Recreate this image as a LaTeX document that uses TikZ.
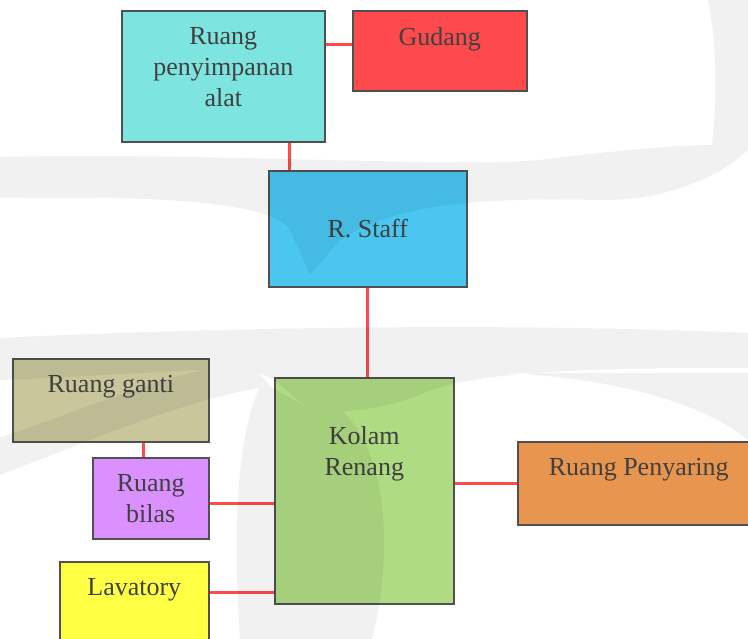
\documentclass[tikz,border=0pt]{standalone}
\usepackage{fontspec}
\setmainfont{Liberation Serif}
\usetikzlibrary{positioning}

\definecolor{boxline}{HTML}{505050}
\definecolor{labelgrey}{HTML}{404040}
\definecolor{linkred}{HTML}{FF4A4A}
\definecolor{cAlat}{HTML}{7EE4DF}
\definecolor{cGudang}{HTML}{FF4A4D}
\definecolor{cStaff}{HTML}{4AC6F1}
\definecolor{cKolam}{HTML}{AFDC83}
\definecolor{cGanti}{HTML}{C9C69C}
\definecolor{cBilas}{HTML}{DB90FF}
\definecolor{cLav}{HTML}{FFFF44}
\definecolor{cSaring}{HTML}{E8954F}

\begin{document}
\begin{tikzpicture}[x=1pt,y=-1pt,
  room/.style={draw=boxline, line width=1.6pt, inner sep=0pt, anchor=north west},
  caption/.style={text=labelgrey, font=\fontsize{26}{31}\selectfont, align=center, inner sep=0pt},
  link/.style={draw=linkred, line width=3pt},
  watermark/.style={fill=black, fill opacity=0.055}]

\useasboundingbox (0,0) rectangle (748,639);
\clip (0,0) rectangle (748,639);
\fill[white] (0,0) rectangle (748,639);

% rooms
\node[room, fill=cAlat,   minimum width=203pt, minimum height=131pt] (alat)   at (121,10)  {};
\node[room, fill=cGudang, minimum width=174pt, minimum height=80pt]  (gudang) at (352,10)  {};
\node[room, fill=cStaff,  minimum width=198pt, minimum height=116pt] (staff)  at (268,170) {};
\node[room, fill=cKolam,  minimum width=179pt, minimum height=226pt] (kolam)  at (274,377) {};
\node[room, fill=cGanti,  minimum width=196pt, minimum height=83pt]  (ganti)  at (12,358)  {};
\node[room, fill=cBilas,  minimum width=116pt, minimum height=81pt]  (bilas)  at (92,457)  {};
\node[room, fill=cLav,    minimum width=149pt, minimum height=100pt] (lav)    at (59,561)  {};
\node[room, fill=cSaring, minimum width=242pt, minimum height=83pt]  (saring) at (517,441) {};

% room names
\node[caption, anchor=north, below=17.5pt of alat.north]   (alat-t)   {Ruang\\penyimpanan\\alat};
\node[caption, anchor=north, below=17.5pt of gudang.north] (gudang-t) {Gudang};
\node[caption] (staff-t) at (staff.center) {R. Staff};
\node[caption, anchor=north, below=49.5pt of kolam.north]  (kolam-t)  {Kolam\\Renang};
\node[caption, anchor=north, below=17.5pt of ganti.north]  (ganti-t)  {Ruang ganti};
\node[caption, anchor=north, below=17.5pt of bilas.north]  (bilas-t)  {Ruang\\bilas};
\node[caption, anchor=north, below=17.5pt of lav.north]    (lav-t)    {Lavatory};
\node[caption, anchor=north, below=17.5pt of saring.north] (saring-t) {Ruang Penyaring};

% connections
\draw[link] ([yshift=6pt]gudang.west) -- ([yshift=6pt]gudang.west -| alat.east);
\draw[link] ([xshift=21pt]staff.north west) -- ([xshift=21pt]staff.north west |- alat.south);
\draw[link] (staff.south) -- (staff.south |- kolam.north);
\draw[link] ([xshift=-7pt]bilas.north) -- ([xshift=-7pt]bilas.north |- ganti.south);
\draw[link] ([yshift=-5pt]bilas.east) -- ([yshift=-5pt]bilas.east -| kolam.west);
\draw[link] ([yshift=12pt]kolam.south west) -- ([yshift=12pt]kolam.south west -| lav.east);
\draw[link] (saring.west) -- (saring.west -| kolam.east);

% faint emblem in the background (one path, so overlaps are filled once)
\fill[watermark]
  % upper sweep with its point
  (0,157) .. controls (200,152) and (450,168) .. (540,160)
  .. controls (620,150) and (680,145) .. (712,145)
  .. controls (718,90) and (716,40) .. (708,0) -- (748,0) -- (748,150)
  .. controls (735,162) and (722,170) .. (712,175)
  .. controls (680,190) and (650,200) .. (600,200)
  .. controls (500,198) and (400,200) .. (340,240)
  -- (310,275) -- (290,230) .. controls (270,200) and (150,196) .. (0,198) -- cycle
  % middle sweep
  (0,338) .. controls (200,328) and (500,322) .. (748,333)
  -- (748,368) .. controls (600,368) and (470,370) .. (420,395)
  .. controls (380,410) and (340,415) .. (308,408)
  .. controls (290,395) and (270,370) .. (240,368)
  .. controls (150,372) and (60,378) .. (0,380) -- cycle
  % lower left arc, reaching into the middle sweep
  (0,437) .. controls (60,420) and (160,372) .. (250,362)
  -- (270,386) .. controls (180,400) and (80,445) .. (0,475) -- cycle
  % drop
  (240,639) .. controls (232,520) and (238,430) .. (262,382)
  -- (308,408) -- (335,404) .. controls (392,450) and (392,560) .. (372,639) -- cycle
  % lower right sweep
  (500,373) .. controls (600,376) and (700,400) .. (748,440) -- (748,373) -- cycle;
\end{tikzpicture}
\end{document}
